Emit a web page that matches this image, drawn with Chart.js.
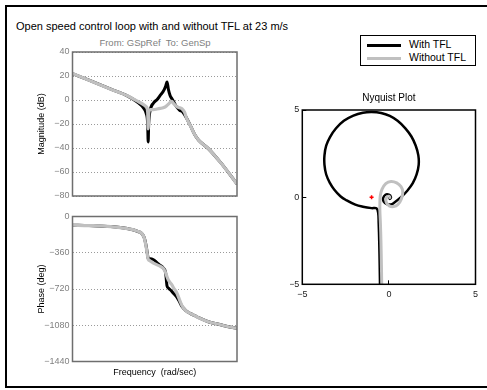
<!DOCTYPE html>
<html>
<head>
<meta charset="utf-8">
<script src="https://cdn.jsdelivr.net/npm/chart.js@4/dist/chart.umd.min.js"></script>
<style>
  body { margin: 0; background: #fff; width: 487px; height: 390px; overflow: hidden; position: relative;
         font-family: "Liberation Sans", Arial, sans-serif; }
  canvas { position: absolute; left: 0; top: 0; }
  .frame { position: absolute; left: 5px; top: 5px; width: 490px; height: 379px; border: 2px solid #000; }
  #title { position: absolute; left: 16px; top: 20px; font-size: 11px; white-space: nowrap; }
  #io { position: absolute; left: 55px; width: 200px; top: 37px; text-align: center; font-size: 9.5px;
        color: #808080; white-space: pre; }
  #legend { position: absolute; left: 360px; top: 35px; width: 114px; height: 29px; border: 1.5px solid #000;
            background: #fff; font-size: 10.5px; }
  #legend .row { position: absolute; left: 6px; height: 13px; line-height: 13px; white-space: nowrap; }
  #legend .sw { display: inline-block; width: 34px; height: 3px; vertical-align: middle; margin-right: 8px; }
</style>
</head>
<body>
<div class="frame"></div>
<div id="title">Open speed control loop with and without TFL at 23 m/s</div>
<div id="io">From: GSpRef  To: GenSp</div>
<canvas id="mag" width="487" height="390"></canvas>
<canvas id="phase" width="487" height="390"></canvas>
<canvas id="nyq" width="487" height="390"></canvas>
<div id="legend">
  <div class="row" style="top:2px"><span class="sw" style="background:#000"></span>With TFL</div>
  <div class="row" style="top:15px"><span class="sw" style="background:#c0c0c0"></span>Without TFL</div>
</div>
<script>
// Bode: frequency (rad/s), magnitude (dB), phase (deg)
const freq = [0.1, 0.2, 0.5, 1, 1.5, 2, 2.2, 2.35, 2.4, 2.45, 2.6, 3, 3.5, 4, 4.5, 5, 5.3, 5.6, 6, 6.5, 7, 8, 9, 10, 11, 12, 14, 17, 20, 30, 50, 70, 100];
const magWith = [22, 16.5, 9, 3.5, -1.5, -7, -11, -20, -35, -20, -9, -2.5, 0.5, 4, 7, 11.5, 15, 9, 4, 1, -1.5, -6, -8.5, -9.5, -12, -15, -21, -29, -33.5, -40.5, -52, -60.5, -70];
const magWithout = [22, 16.5, 9, 3.5, -0.8, -4, -5.5, -10, -24, -12, -8, -8, -7.5, -7, -6.5, -5.5, -4.5, -3.5, -2, -1.2, -3, -5.5, -6.5, -7.5, -10, -15, -21, -29, -33.5, -40.5, -52, -60.5, -70];
const phaseWith = [-86, -90, -100, -120, -145, -200, -290, -390, -415, -420, -420, -430, -460, -485, -510, -560, -690, -710, -725, -745, -765, -800, -850, -895, -920, -940, -962, -985, -1005, -1045, -1075, -1095, -1110];
const phaseWithout = [-86, -90, -100, -120, -145, -200, -300, -400, -425, -432, -440, -462, -480, -495, -515, -560, -600, -630, -655, -680, -710, -760, -830, -890, -920, -940, -962, -985, -1005, -1045, -1075, -1095, -1110];
const magTicks = [-80, 40, 20];     // min, max, step
const phaseTicks = [-1440, 0, 360];

// Nyquist: real / imaginary parts, low to high frequency
const nyqWithRe = [-0.50, -0.53, -0.56, -0.59, -0.62, -0.72, -1.0, -1.5, -1.94, -2.45, -2.8, -3.15, -3.4, -3.62, -3.72, -3.72, -3.62, -3.4, -3.05, -2.6, -2.05, -1.5, -1.0, -0.45, 0.05, 0.5, 0.95, 1.3, 1.55, 1.7, 1.72, 1.6, 1.38, 1.05, 0.7, 0.3, 0.12, -0.12, -0.3, -0.33, -0.2, 0.0, 0.12, 0.05, 0.0];
const nyqWithIm = [-6.0, -4.0, -2.5, -1.5, -0.9, -0.64, -0.63, -0.55, -0.43, -0.18, 0.05, 0.42, 0.8, 1.3, 1.85, 2.4, 2.95, 3.45, 3.95, 4.38, 4.68, 4.84, 4.88, 4.83, 4.66, 4.38, 3.95, 3.48, 2.95, 2.4, 1.85, 1.3, 0.8, 0.35, 0.0, -0.32, -0.42, -0.4, -0.25, -0.05, 0.14, 0.14, 0.0, -0.1, 0.0];
const nyqWithoutRe = [-0.40, -0.43, -0.46, -0.49, -0.52, -0.52, -0.5, -0.4, -0.18, 0.12, 0.45, 0.7, 0.8, 0.72, 0.52, 0.28, 0.02, -0.15, -0.15, 0.0, 0.05, 0.0];
const nyqWithoutIm = [-6.0, -4.0, -2.5, -1.5, -0.8, -0.35, 0.05, 0.45, 0.78, 0.9, 0.82, 0.6, 0.3, -0.1, -0.42, -0.54, -0.5, -0.3, -0.05, 0.05, -0.02, 0.0];
const critical = [-1, 0];

const BLACK = '#000000';
const GREY = '#c0c0c0';
const FONT = '"Liberation Sans", Arial, sans-serif';
Chart.defaults.font.family = FONT;
Chart.defaults.animation = false;

const minus = v => String(v).replace('-', '\u2212');

// axes box drawn on top of everything
const boxFrame = {
  id: 'boxFrame',
  afterDraw(chart, args, opts) {
    const { ctx, chartArea: a } = chart;
    ctx.save();
    ctx.strokeStyle = opts.color;
    ctx.lineWidth = opts.width;
    ctx.strokeRect(a.left, a.top, a.right - a.left, a.bottom - a.top);
    ctx.restore();
  }
};

function bodeChart(id, values1, values2, ticks, yTitle, padding, showXTitle) {
  return new Chart(document.getElementById(id), {
    type: 'line',
    data: {
      labels: freq,
      datasets: [
        { label: 'Without TFL', data: values2, borderColor: GREY, borderWidth: 3.2, order: 1 },
        { label: 'With TFL', data: values1, borderColor: BLACK, borderWidth: 3, order: 2 }
      ]
    },
    plugins: [boxFrame],
    options: {
      responsive: false,
      devicePixelRatio: 1,
      layout: { padding },
      elements: { point: { radius: 0 }, line: { cubicInterpolationMode: 'monotone' } },
      scales: {
        x: {
          type: 'logarithmic', min: 0.1, max: 100,
          display: showXTitle,
          ticks: { display: false },
          grid: { display: false },
          border: { display: false },
          title: { display: showXTitle, text: 'Frequency  (rad/sec)', color: '#000', font: { size: 9 } },
          afterFit: s => { s.height = 20; }
        },
        y: {
          min: ticks[0], max: ticks[1],
          ticks: { stepSize: ticks[2], color: '#808080', font: { size: 9 }, padding: 3, callback: v => minus(v) },
          grid: { color: '#9a9a9a', lineWidth: 1, drawTicks: false },
          border: { display: false, dash: [1, 2] },
          title: { display: true, text: yTitle, color: '#000', font: { size: 9 } },
          afterFit: s => { s.width = 40.5; }
        }
      },
      plugins: {
        legend: { display: false },
        tooltip: { enabled: false },
        boxFrame: { color: '#6e6e6e', width: 1.5 }
      }
    }
  });
}

bodeChart('mag', magWith, magWithout, magTicks, 'Magnitude (dB)',
  { left: 32, top: 52, right: 250, bottom: 174 }, false);
bodeChart('phase', phaseWith, phaseWithout, phaseTicks, 'Phase (deg)',
  { left: 32, top: 216.5, right: 250, bottom: 8.5 }, true);

const toPoints = (re, im) => re.map((x, i) => ({ x, y: im[i] }));

new Chart(document.getElementById('nyq'), {
  type: 'scatter',
  data: {
    datasets: [
      { label: 'Without TFL', data: toPoints(nyqWithoutRe, nyqWithoutIm), showLine: true, borderColor: GREY,
        borderWidth: 3, pointRadius: 0, tension: 0.4, order: 2 },
      { label: 'With TFL', data: toPoints(nyqWithRe, nyqWithIm), showLine: true, borderColor: BLACK,
        borderWidth: 2.5, pointRadius: 0, tension: 0.4, order: 3 },
      { label: '-1', data: [{ x: critical[0], y: critical[1] }], pointStyle: 'cross', pointRadius: 2,
        borderColor: '#ff0000', borderWidth: 1.5, order: 1 }
    ]
  },
  plugins: [boxFrame],
  options: {
    responsive: false,
    devicePixelRatio: 1,
    layout: { padding: { left: 290, top: 84, right: 8.7, bottom: 85.7 } },
    scales: {
      x: {
        type: 'linear', min: -5, max: 5,
        ticks: { stepSize: 5, color: '#222', font: { size: 9 }, padding: 9, callback: v => minus(v) },
        grid: { drawOnChartArea: false, tickLength: -4, tickColor: '#000' },
        border: { display: false },
        afterFit: s => { s.height = 20; }
      },
      y: {
        type: 'linear', min: -5, max: 5,
        ticks: { stepSize: 5, color: '#222', font: { size: 9 }, padding: 7, callback: v => minus(v) },
        grid: { drawOnChartArea: false, tickLength: -4, tickColor: '#000' },
        border: { display: false },
        afterFit: s => { s.width = 12.3; }
      }
    },
    plugins: {
      legend: { display: false },
      tooltip: { enabled: false },
      title: { display: true, text: 'Nyquist Plot', color: '#000', font: { size: 10, weight: 'normal' },
               padding: { top: 8, bottom: 6 }, fullSize: false },
      boxFrame: { color: '#000', width: 1.5 }
    }
  }
});
</script>
</body>
</html>
